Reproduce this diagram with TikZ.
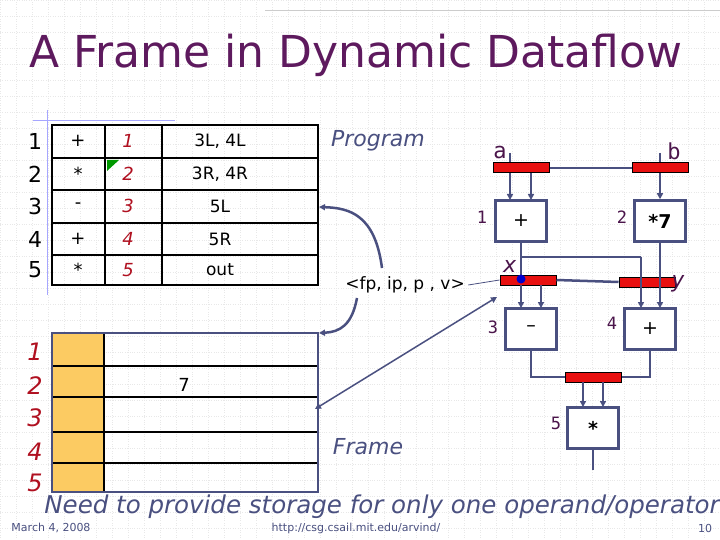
\documentclass[tikz,border=0pt]{standalone}
\usepackage{fontspec}
\setmainfont{DejaVu Sans}
\newfontfamily\mono{DejaVu Sans Mono}
\usetikzlibrary{arrows.meta}
\definecolor{ttl}{HTML}{5E1A5E}
\definecolor{ln}{HTML}{4A5080}
\definecolor{rd}{HTML}{B01020}
\definecolor{org}{HTML}{FCCB62}
\definecolor{barred}{HTML}{E81010}
\begin{document}
\begin{tikzpicture}[x=1pt,y=-1pt,
  tbl/.style={line width=2.5pt,black},
  bar/.style={draw=black,fill=barred,line width=1pt,minimum width=56pt,minimum height=10pt,inner sep=0pt},
  op/.style={draw=ln,line width=2.5pt,fill=white,minimum width=51pt,minimum height=41pt,inner sep=0pt,font=\fontsize{19}{21}\selectfont},
  wire/.style={ln,line width=2.5pt},
  arr/.style={wire,-{Triangle[length=6pt,width=6pt]}},
  lab/.style={font=\mono\fontsize{17}{19}\selectfont,text=ttl!80!black},
  note/.style={font=\itshape\fontsize{22}{24}\selectfont,text=ln}]
\useasboundingbox (0,0) rectangle (720,540);
\fill[white] (0,0) rectangle (720,540);
\draw[gray!18,dotted] (0,0) grid[step=16pt] (720,540);
\draw[gray!40] (265,10) -- (720,10);
\draw[blue!35,line width=0.8pt] (33,120) -- (175,120) (47,110) -- (47,295);
\node[font=\fontsize{44}{48}\selectfont,text=ttl,anchor=west] (title) at (26,55) {A Frame in Dynamic Dataflow};
% program table
\draw[tbl] (52,125) rectangle (318,285);
\foreach \y in {158,190,223,255} \draw[tbl] (52,\y) -- (318,\y);
\draw[tbl] (105,125) -- (105,285) (162,125) -- (162,285);
\fill[green!60!black] (107,160) -- (119,160) -- (107,171) -- cycle;
\foreach \i/\y/\o/\d in {1/141/+/{3L, 4L},2/174/*/{3R, 4R},3/206/-/5L,4/239/+/5R,5/270/*/out}{
  \node[font=\fontsize{22}{24}\selectfont] (pn\i) at (35,\y) {\i};
  \node[font=\fontsize{18}{20}\selectfont] (po\i) at (78,\y) {\o};
  \node[font=\itshape\fontsize{18}{20}\selectfont,text=rd] (pi\i) at (128,\y) {\i};
  \node[font=\fontsize{17}{20}\selectfont] (pd\i) at (220,\y) {\d};
}
% frame table
\fill[org] (52,333) rectangle (103,492);
\draw[tbl] (52,366) -- (318,366) (52,397) -- (318,397) (52,432) -- (318,432) (52,463) -- (318,463) (104,333) -- (104,492);
\draw[ln,line width=2.5pt] (52,333) rectangle (318,492);
\foreach \i/\y in {1/352,2/386,3/418,4/452,5/483}
  \node[font=\itshape\fontsize{24}{26}\selectfont,text=rd] (fn\i) at (35,\y) {\i};
\node[font=\fontsize{18}{20}\selectfont] (seven) at (184,385) {7};
% labels
\node[note] (prog) at (378,141) {Program};
\node[note] (frame) at (368,447) {Frame};
\node[font=\fontsize{17}{20}\selectfont] (tok) at (405,285) {<fp, ip, p , v>};
% graph
\node[bar] (ba) at (521,168) {};
\node[bar] (bb) at (660,168) {};
\node[op] (o1) at (521,221) {+};
\node[op] (o2) at (660,221) {\bfseries *7};
\node[bar] (bx) at (528,280) {};
\node[bar] (by) at (647,282) {};
\node[op] (o3) at (531,329) {--};
\node[op] (o4) at (650,329) {+};
\node[bar] (b5) at (593,377) {};
\node[op] (o5) at (593,428) {\bfseries *};
\node[lab,font=\mono\fontsize{22}{24}\selectfont] (la) at (500,152) {a};
\node[lab,font=\mono\fontsize{22}{24}\selectfont] (lb) at (674,151) {b};
\node[lab,font=\mono\itshape\fontsize{22}{24}\selectfont] (lx) at (510,266) {x};
\node[lab,font=\mono\itshape\fontsize{22}{24}\selectfont] (ly) at (678,284) {y};
\node[lab] (n1) at (482,217) {1};
\node[lab] (n2) at (622,217) {2};
\node[lab] (n3) at (493,327) {3};
\node[lab] (n4) at (612,323) {4};
\node[lab] (n5) at (556,423) {5};
\coordinate (ain) at (510,153);
\coordinate (bin) at (660,153);
\coordinate (out) at (593,470);
\draw[wire] (ba.east) -- (bb.west);
\draw[wire] (bx.east) -- (by.west);
\draw[wire] (ain) -- (ain |- ba.north);
\draw[wire] (bin) -- (bb.north);
\draw[arr] (510,173) -- (510,200);
\draw[arr] (531,173) -- (531,200);
\draw[arr] (bb.south) -- (o2.north);
\draw[wire] (o1.south) -- (521,275);
\draw[wire] (521,257) -- (641,257);
\draw[arr] (641,257) -- (641,308);
\draw[arr] (o2.south) -- (660,308);
\draw[arr] (521,285) -- (521,308);
\draw[arr] (541,285) -- (541,308);
\draw[wire] (o3.south) |- (b5.west);
\draw[wire] (o4.south) |- (b5.east);
\draw[arr] (583,382) -- (583,407);
\draw[arr] (603,382) -- (603,407);
\draw[wire] (o5.south) -- (out);
\fill[blue!80!black] (521,279) circle (4.5pt);
\draw[ln,line width=0.8pt] (tok.east) -- (bx.west);
% frame/program arrows
\draw[arr] (382,268) .. controls (375,215) and (350,208) .. (319,207);
\draw[arr] (357,298) .. controls (352,325) and (340,332) .. (319,333);
\draw[ln,line width=1.5pt,{Triangle[length=6pt,width=6pt]}-{Triangle[length=6pt,width=6pt]}] (315,409) -- (497,297);
% footer
\node[font=\itshape\fontsize{24.5}{26}\selectfont,text=ln] (need) at (382,507) {Need to provide storage for only one operand/operator};
\node[font=\fontsize{11}{12}\selectfont,text=ln] (date) at (51,528) {March 4, 2008};
\node[font=\fontsize{11}{12}\selectfont,text=ln] (url) at (356,528) {http://csg.csail.mit.edu/arvind/};
\node[font=\fontsize{11}{12}\selectfont,text=ln] (pg) at (705,528) {10};
\end{tikzpicture}
\end{document}
